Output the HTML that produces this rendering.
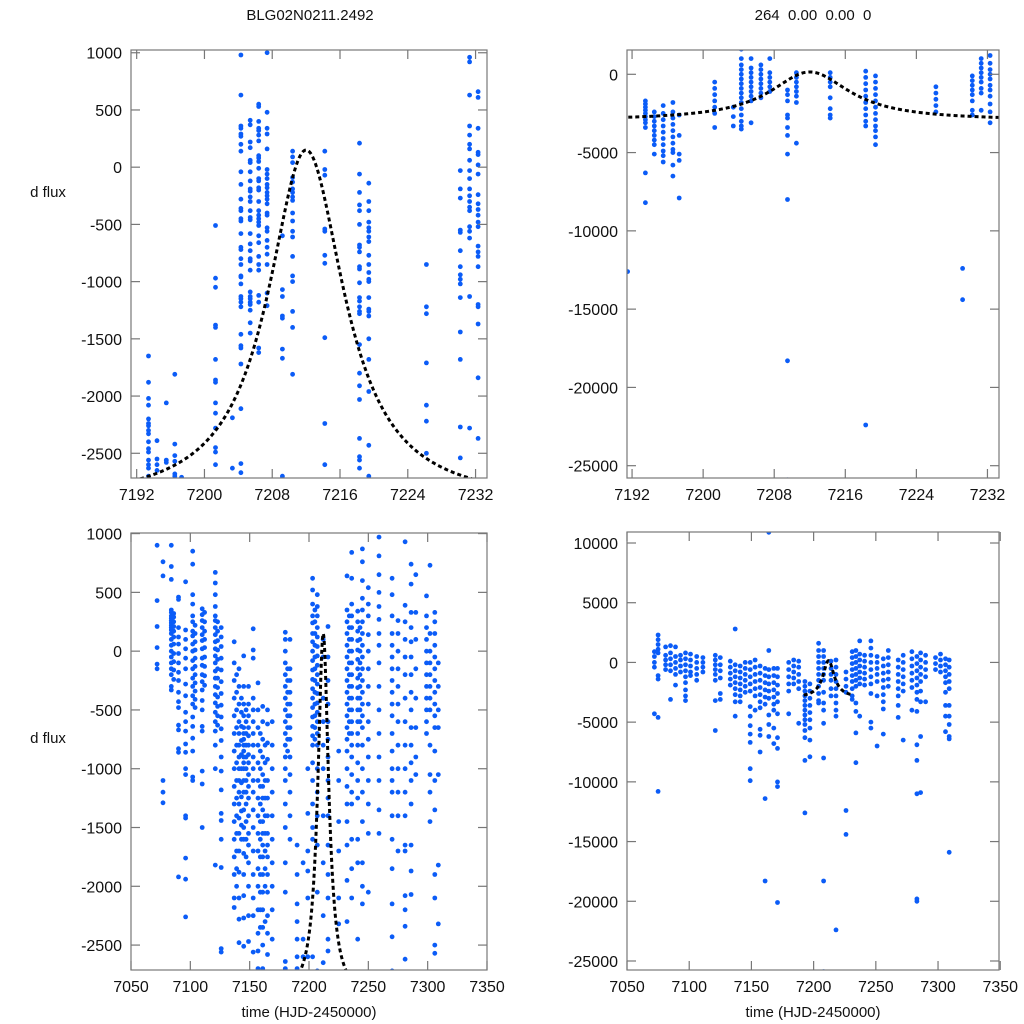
<!DOCTYPE html>
<html><head><meta charset="utf-8">
<style>
body{margin:0;background:#fff;}
svg{display:block;font-family:"Liberation Sans",sans-serif;}
</style></head>
<body>
<svg id="fig" width="1024" height="1024" viewBox="0 0 1024 1024">
<text x="310" y="20" font-size="15" text-anchor="middle" fill="#111">BLG02N0211.2492</text>
<text x="813" y="20" font-size="15" text-anchor="middle" fill="#111" xml:space="preserve">264  0.00  0.00  0</text>
<text x="48" y="197" font-size="15" text-anchor="middle" fill="#111">d flux</text>
<text x="48" y="743" font-size="15" text-anchor="middle" fill="#111">d flux</text>
<text x="309" y="1017" font-size="15" text-anchor="middle" fill="#111">time (HJD-2450000)</text>
<text x="813" y="1017" font-size="15" text-anchor="middle" fill="#111">time (HJD-2450000)</text>
</svg>
<script>
// ---- Data (columns: time, flux values) ----
const p1Cols = [
 [7193.4,[-1650,-1880,-2020,-2080,-2200,-2240,-2260,-2300,-2330,-2400,-2460,-2490,-2560,-2600,-2630,-2700]],
 [7194.4,[-2390,-2550,-2600,-2650]],
 [7195.5,[-2060,-2560,-2580]],
 [7196.5,[-1810,-2420,-2520,-2570,-2680,-2700]],
 [7197.3,[-2710]],
 [7201.3,[-510,-970,-1050,-1380,-1400,-1680,-1860,-1880,-2060,-2150,-2280,-2450,-2490,-2600]],
 [7203.3,[-2190,-2630]],
 [7204.3,[980,630,360,340,290,270,200,140,-40,-150,-280,-360,-380,-450,-470,-580,-700,-720,-800,-850,-950,-960,-1020,-1130,-1150,-1180,-1220,-1460,-1560,-1580,-1720,-2110,-2590,-2670]],
 [7205.4,[410,370,220,170,60,40,-40,-120,-190,-210,-260,-300,-380,-440,-460,-580,-670,-730,-800,-820,-900,-1090,-1130,-1150,-1180,-1200,-1250,-1360,-1450]],
 [7206.4,[550,530,400,340,320,280,230,100,80,50,-10,-100,-120,-180,-200,-300,-380,-420,-450,-480,-510,-600,-660,-780,-850,-900,-1120,-1180,-1580,-1620]],
 [7207.4,[1000,480,340,290,160,-20,-60,-100,-150,-180,-220,-250,-280,-320,-400,-420,-530,-560,-640,-700,-760,-850,-1100,-1210]],
 [7209.2,[-600,-1070,-1130,-1300,-1320,-1590,-1670,-2700,-2720]],
 [7210.4,[140,90,40,-90,-130,-190,-220,-260,-290,-400,-470,-560,-610,-780,-950,-1000,-1260,-1400,-1810]],
 [7214.2,[140,-20,-70,-540,-560,-770,-840,-1490,-2240,-2600]],
 [7218.3,[210,-60,-220,-330,-380,-500,-680,-700,-740,-870,-890,-1010,-1140,-1170,-1220,-1260,-1280,-1550,-1800,-1910,-2030,-2370,-2530,-2560,-2630]],
 [7219.4,[-140,-300,-380,-480,-530,-560,-610,-650,-770,-850,-920,-980,-1000,-1140,-1240,-1260,-1300,-1500,-1680,-1960,-2430,-2700]],
 [7226.2,[-850,-1220,-1280,-1710,-2080,-2220,-2500]],
 [7230.2,[-30,-190,-270,-550,-570,-730,-870,-940,-980,-1020,-1140,-1440,-1680,-2270,-2540]],
 [7231.3,[960,920,630,360,280,200,160,60,-30,-100,-190,-250,-300,-350,-380,-520,-560,-620,-1130,-2280]],
 [7232.3,[660,610,340,130,110,20,-60,-240,-320,-370,-420,-480,-520,-690,-740,-780,-870,-1200,-1220,-1370,-1840,-2370]]
];
const p2Cols = [
 [7191.5,[-12600]],
 [7193.5,[-1700,-1900,-2100,-2300,-2500,-2700,-2900,-3100,-3400,-6300,-8200]],
 [7194.5,[-2400,-2700,-3000,-3300,-3600,-3900,-4200,-4500,-5100]],
 [7195.5,[-2000,-2500,-2900,-3300,-3700,-4100,-4500,-4900,-5200,-5600]],
 [7196.6,[-1800,-2400,-2800,-3200,-3600,-4000,-4400,-4800,-5000,-5800,-6500]],
 [7197.3,[-2600,-3900,-5100,-5500,-7900]],
 [7201.3,[-500,-900,-1300,-1700,-2100,-2500,-3400]],
 [7203.4,[-2100,-2700,-3300]],
 [7204.3,[1600,1000,600,300,0,-300,-600,-900,-1200,-1500,-1800,-2200,-2600,-3000,-3300,-3500]],
 [7205.4,[1000,400,100,-200,-500,-800,-1100,-1400,-1700,-3100]],
 [7206.5,[600,300,0,-300,-600,-900,-1200,-1500]],
 [7207.5,[1000,100,-200,-500,-800,-1100]],
 [7209.5,[-1000,-1300,-1700,-2600,-2800,-3400,-3900,-5100,-8000,-18300,-25900]],
 [7210.5,[100,-200,-500,-800,-1100,-1400,-1800,-4400]],
 [7214.3,[100,-200,-500,-800,-1500,-2200,-2600,-2800]],
 [7218.3,[200,-200,-600,-1000,-1400,-1800,-2200,-2600,-3000,-3300,-22400]],
 [7219.4,[-100,-500,-900,-1300,-1700,-2100,-2500,-2900,-3300,-3600,-4000,-4500]],
 [7226.2,[-800,-1200,-1600,-2000,-2400]],
 [7229.2,[-12400,-14400]],
 [7230.3,[-100,-400,-700,-1000,-1300,-1700,-2300,-2600]],
 [7231.3,[1000,700,400,100,-200,-500,-900,-1200,-2300]],
 [7232.3,[1200,700,300,0,-300,-700,-1000,-1400,-1900,-2400,-3100]]
];
const p3Cols = [
 [7072,[900,430,210,30,-110,-150]],
 [7077,[760,640,-1100,-1200,-1290]],
 [7084,[900,720,610,350,330,300,280,260,240,220,200,180,150,100,50,0,-50,-100,-150,-200,-300,-330]],
 [7086,[320,290,250,210,170,120,60,-20,-90,-160,-240]],
 [7090,[460,440,200,120,60,-20,-100,-180,-250,-350,-430,-480,-630,-670,-830,-860,-1920]],
 [7096,[590,180,100,20,-60,-150,-280,-380,-520,-600,-680,-790,-860,-1000,-1050,-1400,-1420,-1760,-1940,-2260]],
 [7102,[850,740,480,400,300,250,170,130,60,0,-80,-150,-230,-300,-380,-450,-560,-640,-740,-850,-1070,-1100]],
 [7104,[220,150,80,10,-60,-130,-200,-270,-340,-410,-480]],
 [7110,[360,310,260,200,140,90,20,-60,-120,-200,-260,-330,-420,-500,-640,-680,-1020,-1130,-1500]],
 [7112,[330,250,170,100,30,-50,-130,-210,-290]],
 [7121,[670,580,480,380,300,260,200,140,80,20,-40,-100,-170,-230,-300,-370,-440,-520,-600,-680,-800,-1000,-1820]],
 [7123,[250,170,90,10,-70,-150,-230,-310,-390,-470,-550,-630]],
 [7126,[200,120,40,-60,-160,-260,-360,-460,-560,-660,-760,-900,-1020,-1180,-1380,-1440,-1600,-1840,-2530,-2560]],
 [7137,[80,-100,-250,-400,-550,-700,-850,-1000,-1150,-1300,-1450,-1600,-1750,-1900,-2100,-2180]],
 [7139,[-200,-350,-500,-650,-800,-950,-1100,-1250,-1400,-1550,-1700,-1850,-2000]],
 [7141,[-150,-300,-450,-600,-700,-800,-900,-1000,-1100,-1200,-1300,-1420,-1550,-1700,-1880,-2100,-2280,-2480]],
 [7143,[-400,-520,-640,-760,-880,-1000,-1120,-1240,-1360,-1480,-1600]],
 [7145,[-40,-300,-450,-550,-650,-700,-750,-800,-850,-900,-950,-1000,-1100,-1200,-1350,-1500,-1600,-1720,-1900,-2080,-2270,-2510]],
 [7147,[-500,-600,-700,-800,-900,-1000,-1100,-1200,-1300,-1450,-1600,-1750]],
 [7149,[-300,-450,-550,-650,-720,-800,-880,-950,-1050,-1150,-1250,-1400,-1550,-1650,-1800,-2000,-2250,-2470]],
 [7153,[190,10,-60,-400,-500,-600,-700,-800,-900,-1000,-1100,-1200,-1350,-1500,-1700,-1900,-2100,-2250,-2560]],
 [7157,[-270,-500,-650,-800,-950,-1100,-1250,-1400,-1550,-1700,-1850,-2000,-2200,-2400,-2550,-2700]],
 [7159,[-700,-850,-1000,-1150,-1300,-1450,-1600,-1750,-1900,-2050,-2200,-2350]],
 [7161,[-470,-600,-750,-900,-1050,-1150,-1250,-1350,-1450,-1550,-1650,-1750,-1900,-2050,-2200,-2350,-2500,-2700]],
 [7163,[-800,-950,-1100,-1250,-1400,-1550,-1700,-1850,-2000,-2300]],
 [7165,[-500,-620,-780,-920,-1100,-1250,-1400,-1550,-1650,-1750,-1900,-2050,-2250,-2400,-2580]],
 [7169,[-600,-800,-1000,-1200,-1400,-1600,-1800,-2000,-2200,-2450]],
 [7180,[160,100,0,-100,-200,-300,-400,-500,-600,-700,-800,-900,-1000,-1100,-1300,-1500,-1800,-2050,-2640,-2700]],
 [7182,[-150,-250,-350,-450,-550,-650,-750,-850]],
 [7184,[100,-150,-250,-350,-450,-550,-650,-750,-900,-1050,-1200,-1400,-1600]],
 [7190,[-1650,-1900,-2150,-2300,-2450,-2600,-2700]],
 [7195,[-1800,-2450,-2600]],
 [7199,[-1000,-1380,-1700,-1870,-2100,-2600]],
 [7203,[620,520,400,300,240,150,80,0,-80,-160,-240,-320,-400,-480,-560,-640,-720,-800,-950,-1100,-1300,-1500,-1600,-2600]],
 [7205,[350,250,150,50,-50,-150,-250,-350,-450,-550,-650,-750]],
 [7207,[480,380,300,200,120,40,-40,-120,-200,-280,-360,-440,-520,-600,-700,-800,-1000,-1200,-1400,-1650,-2050,-2720]],
 [7212,[100,-50,-400,-600,-800,-1000,-1400,-1800,-2250,-2650]],
 [7216,[210,-50,-250,-450,-600,-750,-900,-1100,-1250,-1400,-1650,-1900,-2100,-2450,-2550]],
 [7225,[-850,-1100,-1450,-1700,-2100,-2320]],
 [7232,[640,350,250,150,50,-50,-150,-250,-350,-450,-550,-650,-750,-850,-1000,-1150,-1300,-1450,-1650,-1950,-2300]],
 [7234,[300,200,100,0,-100,-200,-300,-400,-500,-600,-700]],
 [7236,[840,620,400,300,200,100,0,-100,-200,-300,-400,-500,-600,-700,-800,-900,-1050,-1200,-1300,-1600,-1850,-2100]],
 [7241,[340,250,170,90,10,-70,-150,-230,-310,-400,-500,-600,-700,-800,-950,-1100,-1250,-1600,-1800,-2450]],
 [7243,[200,100,0,-100,-200,-300,-400,-500,-600]],
 [7245,[870,760,600,450,350,250,150,50,-50,-150,-250,-350,-450,-550,-650,-800,-1000,-1200,-1450,-1800,-2000,-2150]],
 [7250,[540,400,300,140,0,-150,-300,-450,-600,-750,-900,-1100,-1300,-1550,-2050]],
 [7259,[970,810,650,500,380,270,150,50,-100,-300,-500,-700,-900,-1100,-1350,-1550]],
 [7270,[620,480,300,150,50,-50,-150,-250,-350,-450,-550,-700,-850,-1000,-1100,-1200,-1400,-1600,-1850,-2150,-2430,-2720]],
 [7275,[260,150,0,-150,-300,-450,-600,-800,-1000,-1200,-1400,-1700]],
 [7281,[930,390,250,100,-50,-200,-400,-600,-800,-1000,-1200,-1400,-1650,-1700,-2080,-2200,-2340,-2620]],
 [7286,[740,570,330,200,80,-50,-200,-350,-500,-650,-800,-950,-1100,-1300,-1650,-1870,-2070]],
 [7290,[650,330,100,-150,-400,-650,-900,-1050]],
 [7299,[470,300,200,100,0,-100,-200,-300,-400,-500,-600,-700]],
 [7302,[730,150,0,-100,-200,-300,-400,-500,-800,-1050,-1200,-1450]],
 [7306,[330,250,150,50,-50,-150,-250,-350,-450,-550,-650,-850,-1100,-1350,-1900,-2100,-2500,-2570]],
 [7309,[-100,-300,-500,-650,-1050,-1820,-2320]]
];
const p4Cols = [
 [7072,[900,500,0,-400,-4300]],
 [7075,[2300,1900,1500,1100,800,-1100,-1400,-4600,-10800]],
 [7081,[1300,600,200,-200,-600]],
 [7085,[1400,800,300,-200,-700,-3100]],
 [7089,[1300,500,0,-500,-1000,-1900]],
 [7093,[600,200,-300,-800]],
 [7097,[800,300,-200,-700,-1200,-1700,-2300,-2800,-3200]],
 [7101,[700,200,-300,-800,-1100]],
 [7106,[500,0,-500,-1000,-1500]],
 [7111,[400,0,-400,-800]],
 [7121,[600,200,-200,-600,-1000,-1500,-3200,-5700]],
 [7125,[400,-200,-700,-1300,-2600,-3100]],
 [7133,[100,-400,-900,-1400,-1900]],
 [7137,[2800,-200,-700,-1200,-1700,-2200,-2700,-3300,-4500]],
 [7141,[-300,-800,-1300,-1800,-2300,-2800,-3300]],
 [7145,[0,-500,-1000,-1500,-2000,-2500]],
 [7149,[0,-600,-1200,-1800,-2400,-3700,-4500,-5300,-6000,-6700,-8900,-9900]],
 [7153,[200,-400,-1000,-1600,-2200,-2800,-4000]],
 [7157,[-300,-900,-1500,-2100,-2700,-3300,-3800,-5600,-6100,-7500]],
 [7161,[-500,-1100,-1700,-2300,-2900,-3500,-11400,-18300]],
 [7164,[10900,1000,-600,-1200,-1800,-2400,-3000,-4400,-5200,-6200]],
 [7168,[-500,-1100,-1700,-2300,-2900,-3500,-4000,-5500,-6800]],
 [7171,[-500,-1200,-1900,-2600,-3300,-4300,-6300,-7200,-10000,-10400,-20100]],
 [7180,[0,-600,-1200,-1800,-2400,-4300]],
 [7184,[200,-300,-800,-1300,-1800]],
 [7188,[100,-400,-1000,-1600,-2200,-5100]],
 [7193,[-1600,-2000,-2400,-2800,-3200,-3600,-4000,-4400,-4800,-5200,-5700,-6300,-8200,-12600]],
 [7197,[-1800,-2400,-3000,-3600,-4200,-4800,-5500,-6500,-7900]],
 [7204,[1600,1000,500,0,-500,-1000,-1500,-2000,-2600,-3200,-3400]],
 [7208,[1000,500,0,-500,-1000,-1500,-2500,-3400,-4000,-5100,-8000,-18300,-25900]],
 [7214,[100,-500,-1000,-1500,-2200,-2800]],
 [7218,[200,-400,-1000,-1600,-2200,-2800,-3400,-4000,-4500,-22400]],
 [7226,[-800,-1400,-2000,-2500,-12400,-14400]],
 [7231,[900,400,-100,-600,-1100,-1600,-2200,-2800,-3100]],
 [7234,[1000,500,0,-500,-1000,-1500,-2000,-3400,-4100,-5900,-8400]],
 [7237,[1800,700,200,-300,-800,-1300,-1800,-4500]],
 [7241,[600,100,-400,-900,-1400,-1900]],
 [7246,[1800,1200,600,0,-600,-1200,-1800,-2600,-5000,-5500]],
 [7251,[500,0,-500,-1000,-1600,-2800,-7000]],
 [7256,[300,-300,-900,-1500,-2100,-2700,-3300,-3900,-6000]],
 [7260,[1000,400,-200,-800,-1400,-2000]],
 [7268,[200,-400,-1000,-1600,-2200,-2800,-3600,-4600]],
 [7272,[600,0,-600,-1200,-1800,-2400,-6500]],
 [7279,[900,300,-300,-900,-1500,-2100,-4000]],
 [7283,[500,-100,-700,-1300,-1900,-2500,-3100,-4100,-6900,-8200,-11000,-19800,-20000]],
 [7286,[800,200,-400,-1000,-1600,-2400,-3300,-6200,-10900]],
 [7290,[600,0,-600,-1200,-3300]],
 [7298,[400,-100,-600]],
 [7302,[700,200,-300,-800]],
 [7306,[300,-200,-700,-1200,-1700,-2500,-3600,-4500,-5800]],
 [7309,[200,-400,-1000,-1600,-2200,-3600,-4500,-5200,-6200,-6400,-15900]]
];
// Tick labels
const xTicksTop = [7192,7200,7208,7216,7224,7232];
const xTicksBottom = [7050,7100,7150,7200,7250,7300,7350];
const yTicksP1 = [1000,500,0,-500,-1000,-1500,-2000,-2500];
const yTicksP2 = [0,-5000,-10000,-15000,-20000,-25000];
const yTicksP3 = [1000,500,0,-500,-1000,-1500,-2000,-2500];
const yTicksP4 = [10000,5000,0,-5000,-10000,-15000,-20000,-25000];
// Model parameters (microlensing-like peak)
const modelParams = [7212.0, 5.5, -2950, 3100]; // t0, width, baseline, amplitude

const NS='http://www.w3.org/2000/svg';
const svg=document.getElementById('fig');
function mk(tag,attrs,parent){const e=document.createElementNS(NS,tag);for(const k in attrs)e.setAttribute(k,attrs[k]);(parent||svg).appendChild(e);return e;}
function model(t){const u=(t-modelParams[0])/modelParams[1];return modelParams[2]+modelParams[3]/(1+u*u);}

function panel(o){
  const g=mk('g',{});
  
  
  const sx=t=>o.L+(t-o.x0)/(o.x1-o.x0)*(o.R-o.L);
  const sy=v=>o.B-(v-o.y0)/(o.y1-o.y0)*(o.B-o.T);
  const clipId='clip-'+o.name;
  const cp=mk('clipPath',{id:clipId},g);
  mk('rect',{x:o.L,y:o.T,width:o.R-o.L,height:o.B-o.T},cp);
  const pts=mk('g',{'clip-path':'url(#'+clipId+')'},g);
  
  
  o.cols.forEach(c=>{
    c[1].forEach(v=>{
      const y=sy(v); if(y<o.T-3||y>o.B+3) return;
      const d=mk('circle',{cx:sx(c[0]).toFixed(1),cy:y.toFixed(1),r:2.4,fill:'#0b5cf7'},pts);
      
      
    });
  });
  let path='';const a=o.m0,b=o.m1;
  for(let i=0;i<=300;i++){const t=a+(b-a)*i/300;path+=(i?'L':'M')+sx(t).toFixed(2)+','+sy(model(t)).toFixed(2);}
  const cv=mk('path',{d:path,fill:'none',stroke:'#000','stroke-width':3,'stroke-dasharray':'4,3','clip-path':'url(#'+clipId+')'},g);
  
  
  const fr=mk('rect',{x:o.L,y:o.T,width:o.R-o.L,height:o.B-o.T,fill:'none',stroke:'#777','stroke-width':1.2},g);
  
  
  o.xt.forEach(t=>{
    const x=sx(t);
    mk('line',{x1:x,y1:o.B,x2:x,y2:o.B-9,stroke:'#777','stroke-width':1.2},g);
    mk('line',{x1:x,y1:o.T,x2:x,y2:o.T+9,stroke:'#777','stroke-width':1.2},g);
    const tx=mk('text',{x:x,y:o.B+22,'font-size':16,'text-anchor':'middle',fill:'#111'},g);
    tx.textContent=t;
    
    
  });
  o.yt.forEach(v=>{
    const y=sy(v);
    mk('line',{x1:o.L,y1:y,x2:o.L+9,y2:y,stroke:'#777','stroke-width':1.2},g);
    mk('line',{x1:o.R,y1:y,x2:o.R-9,y2:y,stroke:'#777','stroke-width':1.2},g);
    const tx=mk('text',{x:o.L-9,y:y+6,'font-size':16,'text-anchor':'end',fill:'#111'},g);
    tx.textContent=v;
    
    
  });
}
panel({name:'panel-top-left',cols:p1Cols,L:131,R:487,T:50,B:478,x0:7191.33,x1:7233.35,y0:-2716,y1:1024,xt:xTicksTop,yt:yTicksP1,m0:7190,m1:7235});
panel({name:'panel-top-right',cols:p2Cols,L:627,R:999,T:50,B:478,x0:7191.43,x1:7233.3,y0:-25786,y1:1552,xt:xTicksTop,yt:yTicksP2,m0:7190,m1:7235});
panel({name:'panel-bottom-left',cols:p3Cols,L:131,R:487,T:533,B:970,x0:7050,x1:7350,y0:-2712,y1:1005,xt:xTicksBottom,yt:yTicksP3,m0:7150,m1:7270});
panel({name:'panel-bottom-right',cols:p4Cols,L:627,R:999,T:532,B:970,x0:7050,x1:7349,y0:-25754,y1:10921,xt:xTicksBottom,yt:yTicksP4,m0:7192,m1:7232});
</script>
</body></html>
